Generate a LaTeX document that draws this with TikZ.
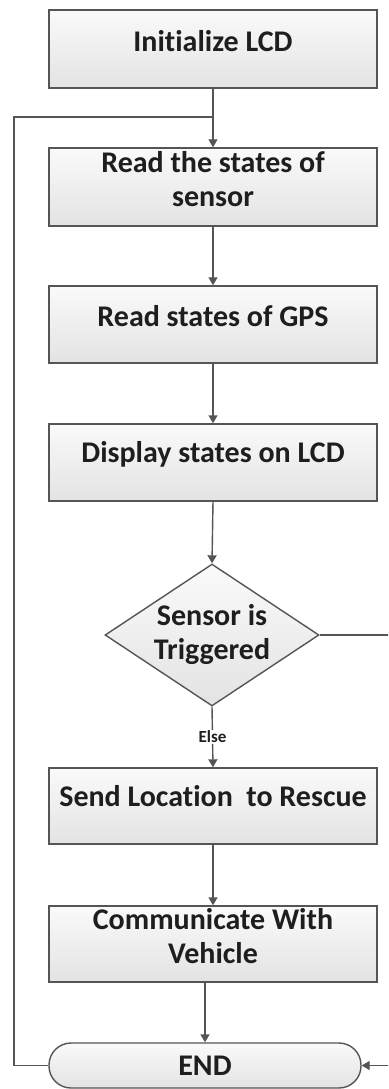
\documentclass[tikz,border=0pt]{standalone}
\usepackage{fontspec}
\setmainfont[Ligatures=NoCommon]{Carlito}
\usetikzlibrary{shapes.geometric,arrows.meta}
\definecolor{edge}{HTML}{555555}
\definecolor{ink}{HTML}{1E1E1E}
\tikzset{
  flowbox/.style={draw=edge, line width=1.4pt, top color=white!98!black, bottom color=white!89!black,
    minimum width=328pt, inner sep=0pt},
  txt/.style={text=ink, font=\bfseries\fontsize{30}{34}\selectfont, align=center, inner sep=0pt},
  small/.style={text=ink, font=\bfseries\fontsize{17}{19}\selectfont, inner sep=1pt, fill=white},
  flow/.style={draw=edge, line width=1.4pt, -{Triangle[length=8pt,width=9pt]}},
  wire/.style={draw=edge, line width=1.4pt},
}
\begin{document}
\begin{tikzpicture}[x=1pt,y=-1pt]
\useasboundingbox (0,0) rectangle (388,1089);
\clip (0,0) rectangle (388,1089);
\fill[white] (0,0) rectangle (388,1089);

% process steps
\node[flowbox, minimum height=78pt] (init) at (213,49) {};
\node[txt] (tinit) at (213,41) {Initialize LCD};
\node[flowbox, minimum height=78pt] (sens) at (213,187) {};
\node[txt] (tsens) at (213,179) {Read the states of\\sensor};
\node[flowbox, minimum height=77pt] (gps) at (213,324.5) {};
\node[txt] (tgps) at (213,316) {Read states of GPS};
\node[flowbox, minimum height=77pt] (disp) at (213,462.5) {};
\node[txt] (tdisp) at (213,454) {Display states on LCD};

% decision
\node[diamond, draw=edge, line width=1.4pt, top color=white!98!black, bottom color=white!89!black,
      minimum width=214pt, minimum height=142pt, inner sep=0pt] (dec) at (212,635) {};
\node[txt] (tdec) at (212,635) {Sensor is\\Triggered};

\node[flowbox, minimum height=76pt] (send) at (213,806) {};
\node[txt] (tsend) at (213,796) {Send Location~~to Rescue};
\node[flowbox, minimum height=76pt] (comm) at (213,944) {};
\node[txt] (tcomm) at (213,936) {Communicate With\\Vehicle};

% terminator
\node[draw=edge, line width=1.4pt, top color=white!98!black, bottom color=white!89!black,
      rounded corners=22pt, minimum width=312pt, minimum height=45pt, inner sep=0pt] (end) at (205,1065.5) {};
\node[txt] (tend) at (205,1066) {END};

% connectors
\coordinate (join) at (213,117);
\coordinate (loopc) at (14,117);
\coordinate (far) at (400,635);
\draw[flow] (init.south) -- (sens.north);
\draw[flow] (sens.south) -- (gps.north);
\draw[flow] (gps.south) -- (disp.north);
\draw[flow] (disp.south) -- (dec.north);
\draw[flow] (dec.south) -- node[small, pos=0.5] (else) {Else} (send.north);
\draw[flow] (send.south) -- (comm.north);
\draw[flow] (comm.south -| end.north) -- (end.north);
\draw[wire] (end.west) -| (loopc) -- (join);
\draw[flow] (dec.east) -- (far) |- (end.east);
\end{tikzpicture}
\end{document}
